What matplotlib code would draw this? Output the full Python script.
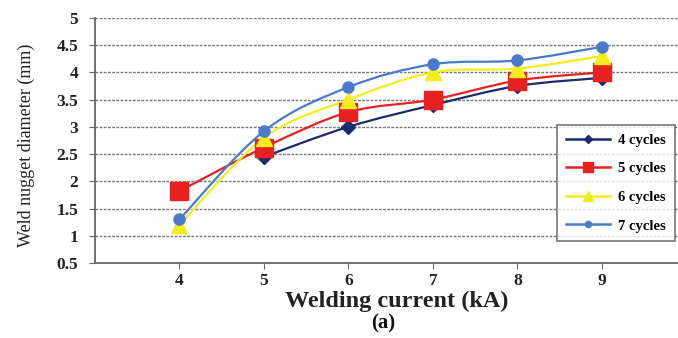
import numpy as np
import matplotlib
matplotlib.use("Agg")
import matplotlib.pyplot as plt
from matplotlib.path import Path
from matplotlib.patches import PathPatch
from matplotlib.lines import Line2D

plt.rcParams["font.family"] = ["Liberation Serif", "DejaVu Serif"]

# DATA
current = [4, 5, 6, 7, 8, 9]
cycles_4 = [None, 2.45, 3.0, 3.4, 3.75, 3.9]
cycles_5 = [1.82, 2.62, 3.27, 3.5, 3.85, 4.0]
cycles_6 = [1.2, 2.8, 3.5, 4.0, 4.07, 4.3]
cycles_7 = [1.3, 2.92, 3.73, 4.15, 4.22, 4.47]
series_labels = ["4 cycles", "5 cycles", "6 cycles", "7 cycles"]

series = [cycles_4, cycles_5, cycles_6, cycles_7]
colors = ["#1c2a6e", "#e82020", "#f2ee1e", "#4a7acb"]
markers = ["D", "s", "^", "o"]
msizes = [7, 13, 12, 8]


def smooth_path(xs, ys):
    # excel style smoothed line (catmull-rom as cubic bezier)
    pts = np.column_stack([xs, ys]).astype(float)
    n = len(pts)
    verts = [pts[0]]
    codes = [Path.MOVETO]
    for i in range(n - 1):
        p0 = pts[i - 1] if i > 0 else pts[i]
        p1 = pts[i]
        p2 = pts[i + 1]
        p3 = pts[i + 2] if i + 2 < n else pts[i + 1]
        c1 = p1 + (p2 - p0) / 6.0
        c2 = p2 - (p3 - p1) / 6.0
        verts += [c1, c2, p2]
        codes += [Path.CURVE4] * 3
    return Path(verts, codes)


fig = plt.figure(figsize=(6.78, 3.38), dpi=100)
ax = fig.add_axes([0.140, 0.222, 0.86, 0.725])

for vals, c, m, ms in zip(series, colors, markers, msizes):
    xs = [x for x, v in zip(current, vals) if v is not None]
    ys = [v for v in vals if v is not None]
    patch = PathPatch(smooth_path(xs, ys), facecolor="none", edgecolor=c,
                      lw=1.6, zorder=3)
    ax.add_patch(patch)
    ax.plot(xs, ys, linestyle="none", marker=m, markersize=ms, color=c,
            markeredgecolor=c, zorder=4)

ax.set_xlim(3, 9.9)
ax.set_ylim(0.5, 5)
ax.set_xticks(current)
ax.set_yticks(np.arange(0.5, 5.01, 0.5))
ax.set_yticklabels(["0.5", "1", "1.5", "2", "2.5", "3", "3.5", "4", "4.5", "5"])
ax.yaxis.grid(True, linestyle=(0, (2, 1)), color="#777777", linewidth=1.0)
ax.set_axisbelow(True)

for s in ["top", "right"]:
    ax.spines[s].set_visible(False)
for s in ["left", "bottom"]:
    ax.spines[s].set_color("#666666")
    ax.spines[s].set_linewidth(1.3)

ax.tick_params(axis="both", direction="out", length=4, color="#666666",
               labelsize=12.5)
ax.tick_params(axis="x", pad=3)
ax.tick_params(axis="y", pad=8)
for lab in ax.get_xticklabels() + ax.get_yticklabels():
    lab.set_fontweight("bold")
    lab.set_color("#222222")

ax.set_xlabel("Welding current (kA)", fontsize=17.5, fontweight="bold",
              color="#222222")
ax.xaxis.set_label_coords(0.518, -0.115)
ax.set_ylabel("Weld nugget diameter (mm)", fontsize=13, color="#222222")
ax.yaxis.set_label_coords(-0.103, 0.48)
fig.text(0.565, 0.012, "(a)", fontsize=15, fontweight="bold",
         ha="center", va="bottom", color="#111111")

handles = [Line2D([0], [0], color=c, marker=m, markersize=ms * 0.55, lw=1.8)
           for c, m, ms in zip(colors, markers, msizes)]
leg = ax.legend(handles, series_labels, loc="upper left",
                bbox_to_anchor=(0.7925, 0.563), borderaxespad=0,
                frameon=True, fancybox=False,
                edgecolor="#555555", prop={"weight": "bold", "size": 10.5},
                handlelength=3.0, labelspacing=1.05, borderpad=0.6,
                handletextpad=0.6)
leg.get_frame().set_linewidth(1.2)

fig.savefig("out.png", dpi=100)
